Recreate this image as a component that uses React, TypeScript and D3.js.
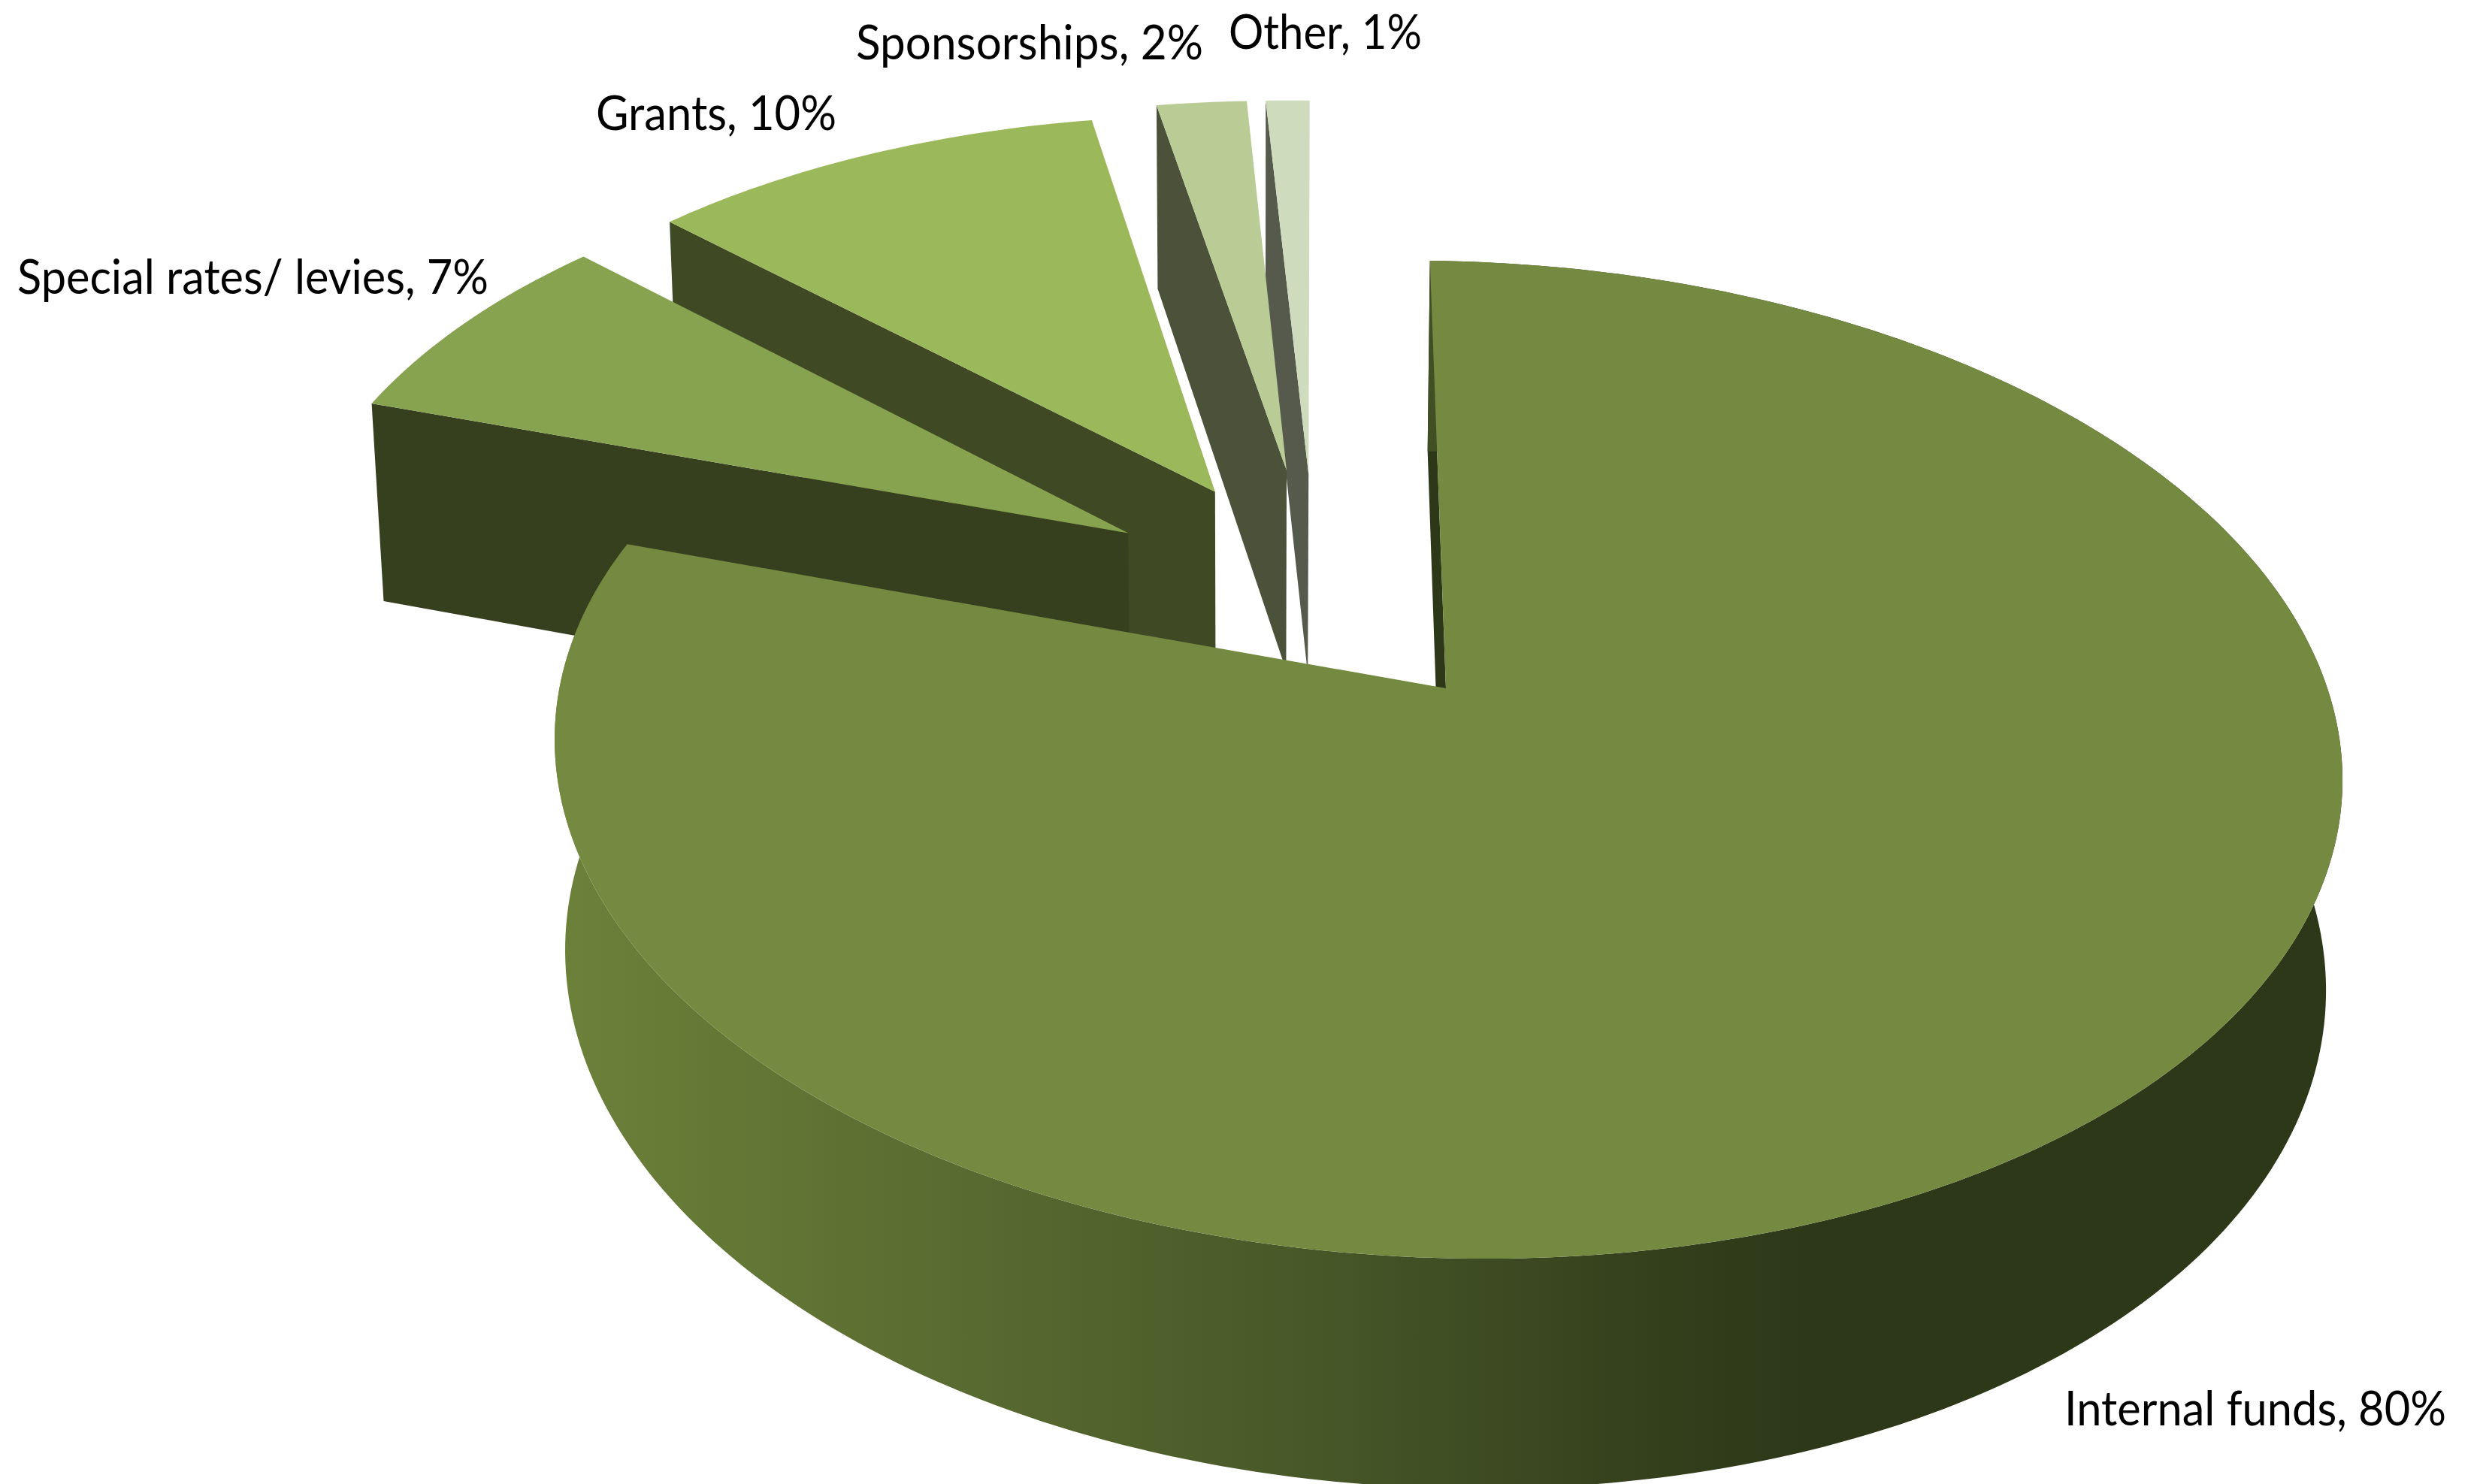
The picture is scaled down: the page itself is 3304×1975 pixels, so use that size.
import React from "react";
import * as d3 from "d3";

// ---------- data ----------
const categories = ["Internal funds", "Special rates/ levies", "Grants", "Sponsorships", "Other"];
const shownPercent = [80, 7, 10, 2, 1];
// slice sizes as actually drawn (measured angles, the labels are rounded)
const sliceShares = [79.65, 7.14, 10.22, 2.02, 0.97];

// ---------- styling / layout ----------
const topColors = ["#758A41", "#87A34F", "#9BB95A", "#B9CC95", "#CFDBBD"];
const wallColors = ["#2D3819", "#36401F", "#3F4A24", "#4C5239", "#555A4D"];
const explodeX = [0, -0.369, -0.268, -0.1825, -0.156];
const explodeY = [0, -0.325, -0.421, -0.472, -0.464];
const sliceRadius = [1, 0.98, 0.98, 0.975, 0.985];
const labelX = [2747, 23, 793, 1139, 1635];
const labelBase = [1897, 391, 173, 79, 65];
const labelWidth = [508, 627, 320, 462, 257];

const WIDTH = 3304;
const HEIGHT = 1975;

// Perspective projection of the pie: X right, Y toward the viewer, Z down (pie thickness = 1)
function project(X: number, Y: number, Z: number): [number, number] {
  const w = 1 - 0.1431 * Y;
  return [
    (1924 + 1177 * X - 251 * Y + 25 * Z) / (w + 0.015 * Z),
    (916 + 13 * X + 519.3 * Y + 301.7 * Z) / (w + 0.0199 * Z),
  ];
}

const line = d3.line<[number, number]>().x((d) => d[0]).y((d) => d[1]);

const sideStops: [number, string][] = [
  [763, "#6B8039"],
  [1300, "#586A30"],
  [1800, "#455527"],
  [2200, "#343F1C"],
  [2410, "#2D3819"],
  [3091, "#2D3819"],
];
const sideOffset = d3.scaleLinear().domain([763, 3091]).range([0, 1]);

export default function App() {
  const arcs = d3
    .pie<number>()
    .sort(null)
    .startAngle(0)
    .endAngle(2 * Math.PI)(sliceShares);

  const rim = (i: number, a: number, z: number): [number, number] => {
    const r = sliceRadius[i];
    return project(explodeX[i] + r * Math.sin(a), explodeY[i] - r * Math.cos(a), z);
  };
  const apex = (i: number, z: number) => project(explodeX[i], explodeY[i], z);
  const arcAngles = (i: number) => {
    const a0 = arcs[i].startAngle;
    const a1 = arcs[i].endAngle;
    const n = Math.max(8, Math.ceil(((a1 - a0) * 180) / Math.PI));
    return d3.range(n + 1).map((k) => a0 + ((a1 - a0) * k) / n);
  };

  const topPath = (i: number) =>
    line([apex(i, 0), ...arcAngles(i).map((a) => rim(i, a, 0))]) + "Z";
  // the radial wall seen under the slice's first edge
  const radialWall = (i: number) => {
    const a = arcs[i].startAngle;
    return line([apex(i, 0), rim(i, a, 0), rim(i, a, 1), apex(i, 1)]) + "Z";
  };
  const mainSide = () => {
    const as = arcAngles(0);
    return line([...as.map((a) => rim(0, a, 0)), ...as.slice().reverse().map((a) => rim(0, a, 1))]) + "Z";
  };

  const backToFront = [4, 3, 2, 1];

  return (
    <svg
      width={WIDTH}
      height={HEIGHT}
      viewBox={`0 0 ${WIDTH} ${HEIGHT}`}
      style={{ position: "absolute", left: 0, top: 0, display: "block", background: "#fff" }}
    >
      <defs>
        <linearGradient id="mainSide" gradientUnits="userSpaceOnUse" x1={763} x2={3091} y1={0} y2={0}>
          {sideStops.map(([x, c]) => (
            <stop key={x} offset={sideOffset(x)} stopColor={c} />
          ))}
        </linearGradient>
      </defs>

      {backToFront.map((i) => (
        <g key={categories[i]}>
          <path d={radialWall(i)} fill={wallColors[i]} />
          <path d={topPath(i)} fill={topColors[i]} />
        </g>
      ))}

      <path d={radialWall(0)} fill={wallColors[0]} />
      <path d={mainSide()} fill="url(#mainSide)" />
      <path d={topPath(0)} fill={topColors[0]} />

      {categories.map((c, i) => (
        <text
          key={c}
          transform={`translate(${labelX[i]},${labelBase[i]}) scale(1,1.07)`}
          fontFamily="Lato, 'Open Sans', sans-serif"
          fontSize={60.5}
          fill="#000"
          textLength={labelWidth[i]}
          lengthAdjust="spacingAndGlyphs"
        >
          {`${c}, ${shownPercent[i]}%`}
        </text>
      ))}
    </svg>
  );
}
